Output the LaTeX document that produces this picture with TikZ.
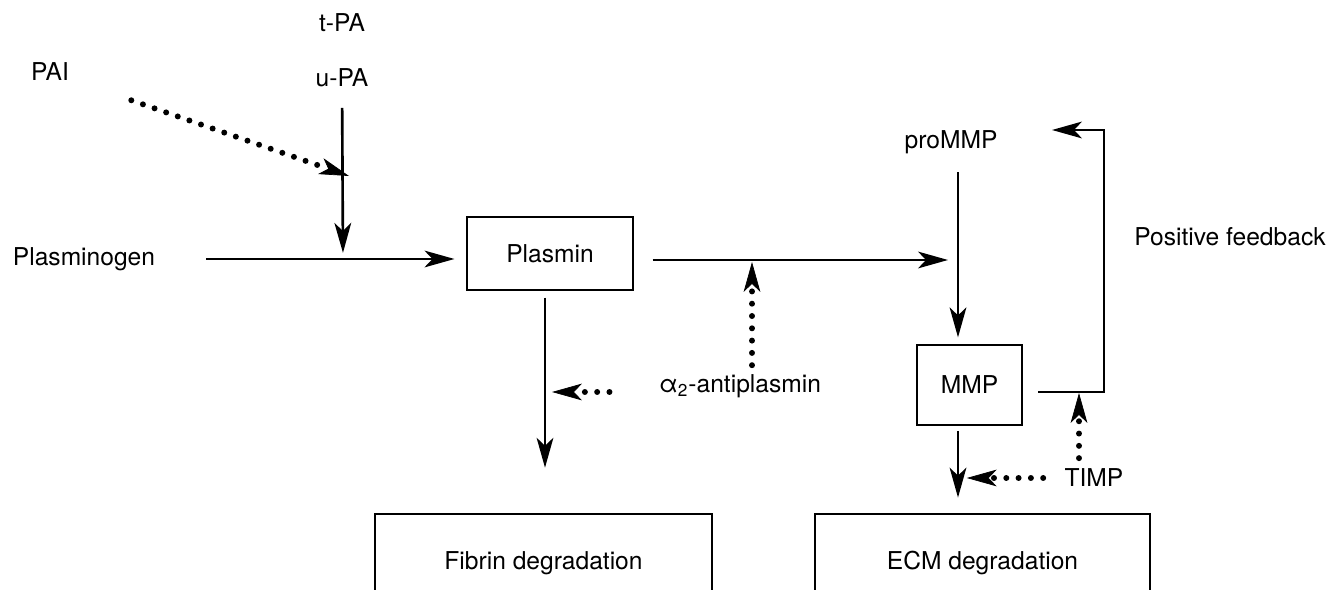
\documentclass[tikz,border=0pt]{standalone}
\usepackage{fontspec}
\setmainfont{TeX Gyre Heros}
\usetikzlibrary{arrows.meta}

\tikzset{
  lbl/.style={font=\fontsize{14}{17}\selectfont, inner sep=3pt},
  stagebox/.style={lbl, draw, line width=0.7pt},
  act/.style={line width=1.5pt, -{Stealth[length=17pt,width=9.5pt,inset=4.5pt]}},
  inhib/.style={line width=3.4pt, line cap=round, dash pattern=on 0pt off 7pt,
    -{Stealth[length=17pt,width=9.5pt,inset=4.5pt,line width=0.4pt]}}
}

\begin{document}
\begin{tikzpicture}[x=0.02cm, y=-0.02cm]
		\useasboundingbox (0,0) rectangle (1330,590);
		\clip (0,0) rectangle (1330,590);

		% plasminogen activation
		\node[lbl] (tpa) at (342,23) {t-PA};
		\node[lbl] (upa) at (342,78) {u-PA};
		\node[lbl] (pai) at (50,72) {PAI};
		\node[lbl] (plg) at (84,259) {Plasminogen};
		\node[stagebox, minimum width=3.32cm, minimum height=1.46cm] (plasmin) at (550,253.5) {Plasmin};
		\node[lbl] (alpha) at (740,386) {α\textsubscript{2}-antiplasmin};
		\node[stagebox, minimum width=6.74cm, minimum height=1.96cm] (fibrin) at (543.5,563) {Fibrin degradation};

		\coordinate (kin) at (343,259);
		\coordinate (paihit) at (349,176);
		\coordinate (ahit) at (752,262);
		\coordinate (fibline) at (545,392);

		\draw[act, shorten <=17pt, shorten >=3.5pt] (upa.center) -- (kin);
		\draw[inhib, shorten <=49pt] (pai.center) -- (paihit);
		\draw[act, shorten <=26pt, shorten >=6.8pt] (plg.east) -- (plg.east -| plasmin.west);
		\draw[inhib, shorten <=2pt] (ahit |- alpha.north) -- (ahit);
		\draw[act, shorten <=4pt, shorten >=26pt] (fibline |- plasmin.south) -- (fibline |- fibrin.north);
		\draw[inhib, shorten <=25pt, shorten >=4pt] (fibline -| alpha.west) -- (fibline);

		%% MMP activation
		\node[lbl] (prommp) at (951,142) {proMMP};
		\node[stagebox, minimum width=2.1cm, minimum height=1.6cm] (mmp) at (969.5,385) {MMP};
		\node[lbl] (timp) at (1094,478) {TIMP};
		\node[lbl] (posfb) at (1230,237) {Positive feedback};
		\node[stagebox, minimum width=6.7cm, minimum height=1.96cm] (ecm) at (982.5,563) {ECM degradation};

		\coordinate (mmpline) at (958,260);
		\coordinate (ecmline) at (958,478);
		\coordinate (fblow) at (1104,392);
		\coordinate (fbtop) at (1104,130);
		\coordinate (fbend) at (1052,130);
		\coordinate (fbhit) at (1079,393);

		\draw[act, shorten <=10.8pt, shorten >=5.7pt] (mmpline -| plasmin.east) -- (mmpline);
		\draw[act, shorten <=7.4pt, shorten >=4pt] (mmpline |- prommp.south) -- (mmpline |- mmp.north);
		\draw[act, shorten <=3pt, shorten >=9pt] (mmpline |- mmp.south) -- (mmpline |- ecm.north);
		\draw[inhib, shorten <=9pt, shorten >=5pt] (ecmline -| timp.west) -- (ecmline);
		\draw[act, shorten <=9pt] (fblow -| mmp.east) -- (fblow) -- (fbtop) -- (fbend);
		\draw[inhib, shorten <=3pt] (fbhit |- timp.north) -- (fbhit);
\end{tikzpicture}
\end{document}
